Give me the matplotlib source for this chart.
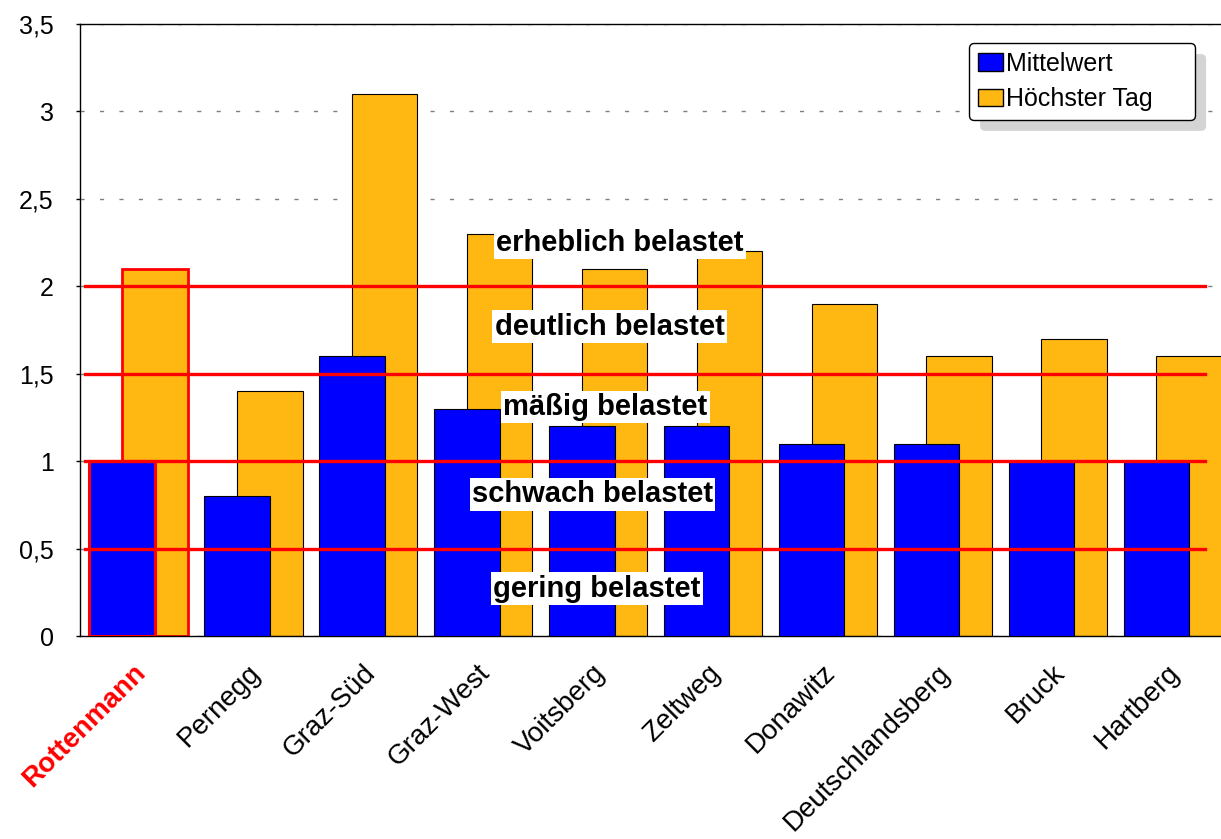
import matplotlib
matplotlib.use("Agg")
import matplotlib.pyplot as plt
import matplotlib.transforms as mtransforms
import numpy as np

# Daten
stationen = ["Rottenmann", "Pernegg", "Graz-Süd", "Graz-West", "Voitsberg",
             "Zeltweg", "Donawitz", "Deutschlandsberg", "Bruck", "Hartberg"]
mittelwert = [1.0, 0.8, 1.6, 1.3, 1.2, 1.2, 1.1, 1.1, 1.0, 1.0]
hoechster_tag = [2.1, 1.4, 3.1, 2.3, 2.1, 2.2, 1.9, 1.6, 1.7, 1.6]

grenzen = [0.5, 1.0, 1.5, 2.0]
klassen = ["gering belastet", "schwach belastet", "mäßig belastet",
           "deutlich belastet", "erheblich belastet"]
klassen_y = [0.27, 0.81, 1.31, 1.77, 2.25]
klassen_x = [4.0, 3.96, 4.07, 4.11, 4.20]

y_ticks = [0, 0.5, 1, 1.5, 2, 2.5, 3, 3.5]

BLAU = "#0000FF"
ORANGE = "#FFB812"
ROT = "#FF0000"

plt.rcParams["font.family"] = ["Liberation Sans", "DejaVu Sans"]
plt.rcParams["lines.scale_dashes"] = False

W, H = 1221, 839
fig = plt.figure(figsize=(W / 100, H / 100), dpi=100)
ax = fig.add_axes([80 / W, (H - 636) / H, 1149 / W, 612 / H])

x = np.arange(len(stationen))
breite = 0.57
# Balken (Orange hinten, Blau vorne)
b_or = ax.bar(x + 0.152, hoechster_tag, breite, color=ORANGE,
              edgecolor="black", linewidth=0.8, zorder=2)
b_bl = ax.bar(x - 0.133, mittelwert, breite, color=BLAU,
              edgecolor="black", linewidth=0.8, zorder=3)
# Rottenmann hervorheben
b_or[0].set_edgecolor(ROT)
b_or[0].set_linewidth(2.0)
b_bl[0].set_edgecolor(ROT)
b_bl[0].set_linewidth(2.2)

# Grenzlinien
for g in grenzen:
    ax.axhline(g, xmin=0.004, xmax=0.979, color=ROT, linewidth=2.4, zorder=4)

# Klassenbeschriftungen
for txt, xx, yy in zip(klassen, klassen_x, klassen_y):
    ax.text(xx, yy, txt, ha="center", va="center", fontsize=21,
            fontweight="bold", zorder=6,
            bbox=dict(boxstyle="square,pad=0.08", facecolor="white",
                      edgecolor="none"))

ax.set_xlim(-0.5, len(stationen) - 0.5)
ax.set_ylim(0, 3.5)
ax.set_yticks(y_ticks)
ax.set_yticklabels([f"{v:g}".replace(".", ",") for v in y_ticks], fontsize=18)
ax.yaxis.grid(True, color="#808080", linestyle=(0, (3, 11)), linewidth=1.0, zorder=0)
ax.set_axisbelow(True)
ax.tick_params(axis="y", length=3, width=1, pad=16)

ax.set_xticks(x)
ax.set_xticklabels(stationen, fontsize=20, rotation=45, ha="right",
                   va="top", rotation_mode="anchor")
ax.tick_params(axis="x", length=0, pad=17)
offset = mtransforms.ScaledTranslation(-5 / 100, 0, fig.dpi_scale_trans)
for lbl in ax.get_xticklabels():
    lbl.set_transform(lbl.get_transform() + offset)
lbl0 = ax.get_xticklabels()[0]
lbl0.set_color(ROT)
lbl0.set_fontweight("bold")

for s in ["left", "top", "bottom"]:
    ax.spines[s].set_color("black")
    ax.spines[s].set_linewidth(1.0)
ax.spines["right"].set_visible(False)

leg = fig.legend([b_bl, b_or], ["Mittelwert", "Höchster Tag"],
                 loc="upper left", mode="expand",
                 bbox_to_anchor=(969 / W, 1 - 119 / H, 226 / W, 76 / H),
                 bbox_transform=fig.transFigure, borderaxespad=0,
                 fontsize=18, handlelength=1.0, handleheight=0.7,
                 handletextpad=0.15, labelspacing=0.45, borderpad=0.35,
                 fancybox=True, framealpha=1, edgecolor="black",
                 shadow={"ox": 8, "oy": -8, "facecolor": "#d4d4d4",
                         "edgecolor": "none", "alpha": 1})
leg.get_frame().set_linewidth(1.0)
for h in leg.legend_handles:
    h.set_edgecolor("black")
    h.set_linewidth(1.0)

fig.savefig("out.png", dpi=100)
